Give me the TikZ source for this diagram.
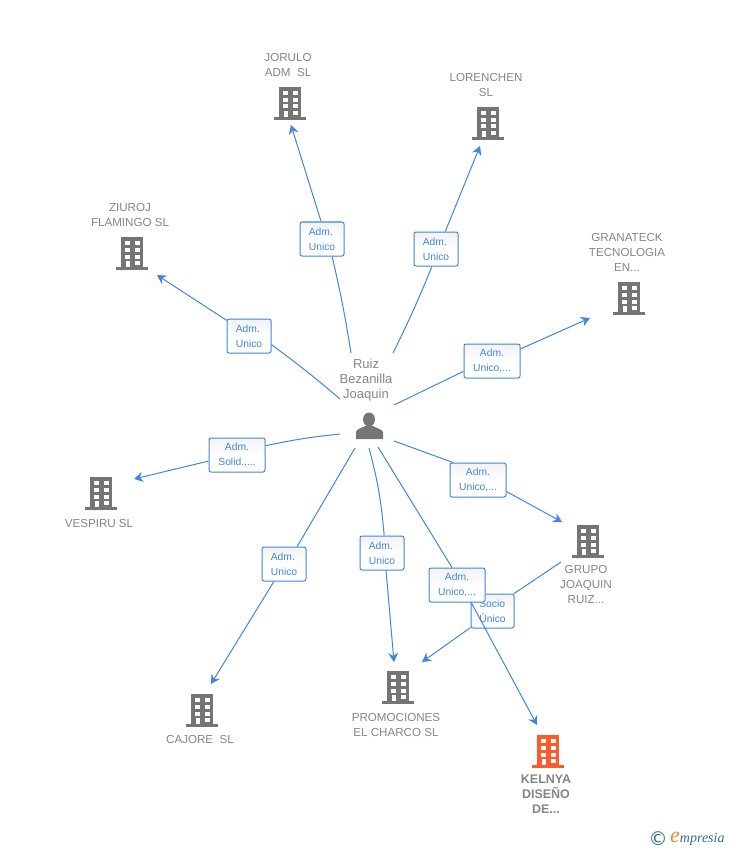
\documentclass[tikz,border=0pt]{standalone}
\usepackage{fontspec}
\setmainfont{Liberation Sans}
\newfontfamily\symfont{DejaVu Sans}
\newfontfamily\logofont{Liberation Serif}
\usetikzlibrary{arrows.meta}
\definecolor{bldgrey}{HTML}{757575}
\definecolor{bldorange}{HTML}{FF5A2C}
\definecolor{txtgrey}{HTML}{858585}
\definecolor{flowblue}{HTML}{3F86E3}
\definecolor{logoteal}{HTML}{2F6F86}
\definecolor{logoorange}{HTML}{F08A24}
\tikzset{
  lblbox/.style={draw=flowblue, line width=1pt, rounded corners=2pt, top color=black!5, bottom color=white, middle color=white, text=flowblue, minimum height=34pt, align=center, inner sep=0pt, font=\fontsize{10.3}{15}\selectfont},
  bldname/.style={text=txtgrey, align=center, inner sep=0pt, font=\fontsize{11.6}{15}\selectfont},
  flow/.style={draw=flowblue, line width=1pt},
  flowto/.style={flow, -{Stealth[length=9pt,width=10pt,inset=3pt]}},
  pics/buildingicon/.style={code={
    \fill[#1] (-11,0) rectangle (11,30);
    \fill[#1] (-16,30) rectangle (16,33);
    \foreach \wy in {4,11,17.5}{
      \fill[white] (-7.5,\wy) rectangle (-2.5,\wy+4);
      \fill[white] (2.5,\wy) rectangle (7.5,\wy+4);
    }
    \fill[white] (2.5,24) rectangle (7.5,28);
    \fill[white] (-6.5,24) rectangle (-2.5,30);
  }}
}
\begin{document}
\begin{tikzpicture}[x=1pt,y=-1pt]
\useasboundingbox (0,0) rectangle (728,850);
\pic at (290,87) {buildingicon=bldgrey};
\pic at (488,107) {buildingicon=bldgrey};
\pic at (132,237) {buildingicon=bldgrey};
\pic at (629,282) {buildingicon=bldgrey};
\pic at (101,477) {buildingicon=bldgrey};
\pic at (588,525) {buildingicon=bldgrey};
\pic at (202,694) {buildingicon=bldgrey};
\pic at (398,671) {buildingicon=bldgrey};
\pic at (548,735) {buildingicon=bldorange};
\node[bldname] (jorulo) at (288,65.5) {JORULO\\ADM\ \ SL};
\node[bldname] (lorenchen) at (486,85.5) {LORENCHEN\\SL};
\node[bldname] (ziuroj) at (130,215.5) {ZIUROJ\\FLAMINGO SL};
\node[bldname] (granateck) at (627,252) {GRANATECK\\TECNOLOGIA\\EN...};
\node[bldname] (vespiru) at (99,523.5) {VESPIRU SL};
\node[bldname] (grupo) at (586,585) {GRUPO\\JOAQUIN\\RUIZ...};
\node[bldname] (cajore) at (200,739.5) {CAJORE\ \ SL};
\node[bldname] (promociones) at (396,724.5) {PROMOCIONES\\EL CHARCO SL};
\node[bldname, font=\fontsize{12.5}{15}\selectfont\bfseries] (kelnya) at (546,794) {KELNYA\\DISEÑO\\DE...};
\node[bldname, font=\fontsize{13}{15}\selectfont] (ruiz) at (366,380) {Ruiz\\Bezanilla\\Joaquin};
\fill[bldgrey] (369,419.5) ellipse (6 and 7);
\fill[bldgrey] (356,439) -- (356,432) .. controls (356,429) and (362,428) .. (365,426) -- (373,426) .. controls (376,428) and (382,429) .. (383,432) -- (383,439) -- cycle;
\coordinate (sjorulo) at (351,353);
\coordinate (ejorulo) at (291,125);
\coordinate (slorenchen) at (393,353);
\coordinate (elorenchen) at (480,146);
\coordinate (sziuroj) at (340,399);
\coordinate (eziuroj) at (157,275);
\coordinate (sgranateck) at (394,405);
\coordinate (egranateck) at (590,318);
\coordinate (svespiru) at (340,434);
\coordinate (evespiru) at (134,479);
\coordinate (sgrupo) at (394,441);
\coordinate (egrupo) at (562,522);
\coordinate (scajore) at (355,448);
\coordinate (ecajore) at (211,684);
\coordinate (spromociones) at (369,448);
\coordinate (epromociones) at (394,662);
\coordinate (skelnya) at (378,447);
\coordinate (ekelnya) at (537,725);
\coordinate (ssocio) at (561,562);
\coordinate (esocio) at (422,662);
\node[lblbox, align=left, minimum width=44pt] (ljorulo) at (322,239) {Adm.\\Unico};
\draw[flow] (sjorulo) to[bend right=2] (ljorulo.300);
\draw[flowto] (ljorulo.93) -- (ejorulo);
\node[lblbox, align=left, minimum width=44pt] (llorenchen) at (436,249) {Adm.\\Unico};
\draw[flow] (slorenchen) to[bend right=2] (llorenchen.257);
\draw[flowto] (llorenchen.62) -- (elorenchen);
\node[lblbox, align=left, minimum width=44pt] (lziuroj) at (249,336) {Adm.\\Unico};
\draw[flow] (sziuroj) to[bend right=2] (lziuroj.339);
\draw[flowto] (lziuroj.145) -- (eziuroj);
\node[lblbox, minimum width=56pt] (lgranateck) at (492,361) {Adm.\\Unico,...};
\draw[flow] (sgranateck) -- (lgranateck.200);
\draw[flowto] (lgranateck.23) -- (egranateck);
\node[lblbox, minimum width=56pt] (lvespiru) at (237,455) {Adm.\\Solid.,...};
\draw[flow] (svespiru) to[bend right=3] (lvespiru.18);
\draw[flowto] (lvespiru.192) -- (evespiru);
\node[lblbox, minimum width=56pt] (lgrupo) at (478,480) {Adm.\\Unico,...};
\draw[flow] (sgrupo) -- (lgrupo.145);
\draw[flowto] (lgrupo.338) -- (egrupo);
\node[lblbox, align=left, minimum width=44pt] (lcajore) at (284,564) {Adm.\\Unico};
\draw[flow] (scajore) -- (lcajore.53);
\draw[flowto] (lcajore.240) -- (ecajore);
\node[lblbox, align=left, minimum width=44pt] (lpromociones) at (382,553) {Adm.\\Unico};
\draw[flow] (spromociones) to[bend left=5] (lpromociones.83);
\draw[flowto] (lpromociones.283) -- (epromociones);
\node[lblbox, align=left, minimum width=43pt] (lsocio) at (492.5,611) {Socio\\Único};
\draw[flow] (ssocio) -- (lsocio.39);
\draw[flowto] (lsocio.217) -- (esocio);
\node[lblbox, minimum width=56pt] (lkelnya) at (457,585) {Adm.\\Unico,...};
\draw[flow] (skelnya) -- (lkelnya.106);
\draw[flowto] (lkelnya.309) -- (ekelnya);
\node[text=logoteal, inner sep=0pt, font=\symfont\fontsize{19}{19}\selectfont] (copyr) at (658,839) {©};
\node[text=logoteal, inner sep=0pt, anchor=west, font=\logofont\itshape\fontsize{14}{14}\selectfont] (logo) at (670,839) {\textcolor{logoorange}{\fontsize{22}{22}\selectfont e}mpresia};
\end{tikzpicture}
\end{document}
